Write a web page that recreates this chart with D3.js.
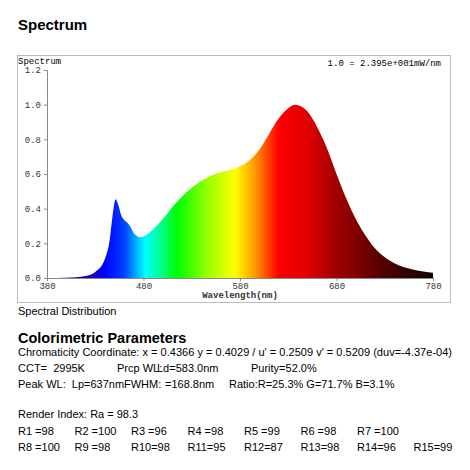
<!DOCTYPE html><html><head><meta charset="utf-8"><script src="https://cdn.jsdelivr.net/npm/d3@7"></script>
<style>body{margin:0;background:#fff}</style></head><body><svg id="c" width="470" height="470"></svg>
<script>
const wavelengths=[380,400,420,430,440,445,448,451,454,457,460,463,466,470,474,477,480,490,500,510,520,530,540,550,560,570,580,590,600,610,620,630,637,645,650,660,670,680,690,700,710,720,730,740,750,760,770,780];
const values=[0,0.002,0.012,0.035,0.11,0.22,0.36,0.455,0.42,0.36,0.335,0.32,0.3,0.26,0.24,0.235,0.24,0.28,0.34,0.41,0.47,0.52,0.56,0.59,0.61,0.625,0.645,0.68,0.74,0.83,0.92,0.98,1.0,0.985,0.96,0.87,0.75,0.6,0.46,0.34,0.245,0.17,0.12,0.085,0.062,0.048,0.038,0.03];
const xTicks=[380,480,580,680,780];
const yTicks=[0,0.2,0.4,0.6,0.8,1.0,1.2];
const gradStops=[[380,"#000030"],[420,"#1a00a0"],[440,"#0000ff"],[460,"#0040ff"],[475,"#00c8ff"],[482,"#00ffff"],[495,"#00ffa0"],[515,"#00ff00"],[545,"#90ff00"],[575,"#ffff00"],[595,"#ff9a00"],[620,"#ff0000"],[650,"#e00000"],[680,"#a00000"],[730,"#500000"],[780,"#100000"]];
const params=["Chromaticity Coordinate: x = 0.4366 y = 0.4029 / u' = 0.2509 v' = 0.5209 (duv=-4.37e-04)"];
const row2=[["CCT=  2995K",18],["Prcp WL:",117],["Ld=583.0nm",157],["Purity=52.0%",251]];
const row3=[["Peak WL:  Lp=637nm",18],["FWHM:",124],["=168.8nm",165],["Ratio:R=25.3% G=71.7% B=3.1%",229]];
const r1=["R1 =98","R2 =100","R3 =96","R4 =98","R5 =99","R6 =98","R7 =100"];
const r2=["R8 =100","R9 =98","R10=98","R11=95","R12=87","R13=98","R14=96","R15=99"];
const svg=d3.select("#c");
const x=d3.scaleLinear().domain([380,780]).range([47,433]);
const y=d3.scaleLinear().domain([0,1.2]).range([278,70]);
svg.append("text").attr("x",18).attr("y",30).attr("font-family","Liberation Sans,Arial").attr("font-weight","bold").attr("font-size",15).text("Spectrum");
svg.append("rect").attr("x",17.5).attr("y",55.5).attr("width",433).attr("height",247).attr("fill","none").attr("stroke","#bbb");
const g=svg.append("defs").append("linearGradient").attr("id","sp").attr("gradientUnits","userSpaceOnUse").attr("x1",x(380)).attr("x2",x(780)).attr("y1",0).attr("y2",0);
gradStops.forEach(s=>g.append("stop").attr("offset",(s[0]-380)/400).attr("stop-color",s[1]));
const data=wavelengths.map((w,i)=>[w,values[i]]);
svg.append("path").datum(data).attr("fill","url(#sp)").attr("d",d3.area().x(d=>x(d[0])).y0(y(0)).y1(d=>y(d[1])).curve(d3.curveMonotoneX));
const mono="Liberation Mono,Courier New,monospace";
const ya=svg.append("g").attr("transform",`translate(47,0)`).call(d3.axisLeft(y).tickValues(yTicks).tickFormat(d3.format(".1f")).tickSize(3));
const xa=svg.append("g").attr("transform",`translate(0,278)`).call(d3.axisBottom(x).tickValues(xTicks).tickSize(3).tickFormat(d=>d));
[ya,xa].forEach(a=>{a.selectAll("text").attr("font-family",mono).attr("font-size",9).attr("fill","#333");a.selectAll("line,path").attr("stroke","#888");});
xa.selectAll("text").attr("dy","0.5em");
svg.append("text").attr("x",18).attr("y",64).attr("font-family",mono).attr("font-size",9).text("Spectrum");
svg.append("text").attr("x",441).attr("y",66).attr("text-anchor","end").attr("font-family",mono).attr("font-size",9).text("1.0 = 2.395e+001mW/nm");
svg.append("text").attr("x",240).attr("y",298).attr("text-anchor","middle").attr("font-family",mono).attr("font-size",9).attr("font-weight","bold").attr("fill","#333").text("Wavelength(nm)");
const sans="Liberation Sans,Arial";
svg.append("text").attr("x",18).attr("y",315).attr("font-family",sans).attr("font-size",11).text("Spectral Distribution");
svg.append("text").attr("x",18).attr("y",343).attr("font-family",sans).attr("font-size",14.5).attr("font-weight","bold").text("Colorimetric Parameters");
svg.append("text").attr("x",18).attr("y",356).attr("font-family",sans).attr("font-size",11).attr("textLength",434).text(params[0]);
row2.forEach(r=>svg.append("text").attr("x",r[1]).attr("y",372).attr("font-family",sans).attr("font-size",11).attr("xml:space","preserve").text(r[0]));
row3.forEach(r=>svg.append("text").attr("x",r[1]).attr("y",388).attr("font-family",sans).attr("font-size",11).attr("xml:space","preserve").text(r[0]));
svg.append("text").attr("x",18).attr("y",418).attr("font-family",sans).attr("font-size",11).text("Render Index: Ra = 98.3");
r1.forEach((t,i)=>svg.append("text").attr("x",18+i*56.5).attr("y",435).attr("font-family",sans).attr("font-size",11).text(t));
r2.forEach((t,i)=>svg.append("text").attr("x",18+i*56.5).attr("y",451).attr("font-family",sans).attr("font-size",11).text(t));
</script></body></html>
